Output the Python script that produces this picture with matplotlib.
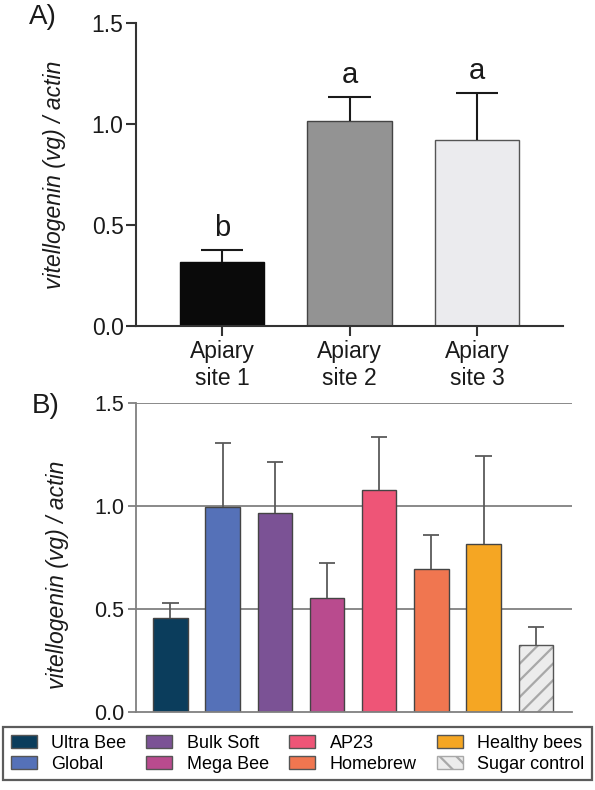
import matplotlib
matplotlib.use("Agg")
import matplotlib.pyplot as plt
from matplotlib.patches import Patch
import numpy as np

plt.rcParams['font.family'] = ['Liberation Sans', 'DejaVu Sans']
plt.rcParams['hatch.linewidth'] = 1.6

# ---- Panel A data ----
sites = ["Apiary\nsite 1", "Apiary\nsite 2", "Apiary\nsite 3"]
site_means = [0.318, 1.013, 0.922]
site_errs = [0.058, 0.121, 0.229]
site_letters = ["b", "a", "a"]
site_colors = ["#0a0a0a", "#939393", "#ebebee"]
site_edges = ["#0a0a0a", "#444444", "#555555"]

# ---- Panel B data ----
feeds = ["Ultra Bee", "Global", "Bulk Soft", "Mega Bee", "AP23",
         "Homebrew", "Healthy bees", "Sugar control"]
feed_means = [0.456, 0.994, 0.966, 0.552, 1.076, 0.694, 0.816, 0.325]
feed_errs = [0.073, 0.313, 0.249, 0.171, 0.260, 0.164, 0.425, 0.088]
feed_colors = ["#0b3d5c", "#5571b8", "#7b5295", "#b94b8e", "#ee5577",
               "#f07650", "#f5a623", "#ececec"]
yticks = [0.0, 0.5, 1.0, 1.5]

fig = plt.figure(figsize=(5.95, 7.9), dpi=100)

# ---------------- Panel A ----------------
axA = fig.add_axes([0.2286, 0.5873, 0.9462 - 0.2286, 0.9709 - 0.5873])
xa = np.arange(len(sites))
axA.bar(xa, site_means, width=0.66, color=site_colors, edgecolor=site_edges,
        linewidth=1.0, zorder=2)
tops = np.array(site_means) + np.array(site_errs)
axA.vlines(xa, site_means, tops, color="#1a1a1a", lw=1.5, zorder=3)
axA.hlines(tops, xa - 0.165, xa + 0.165, color="#1a1a1a", lw=1.5, zorder=3)
for xi, t, let in zip(xa, tops, site_letters):
    axA.text(xi, t + 0.07, let, ha="center", va="baseline", fontsize=21,
             color="#1a1a1a")
axA.set_xlim(-0.675, 2.675)
axA.set_ylim(0, 1.5)
axA.set_yticks(yticks)
axA.set_yticklabels([f"{v:.1f}" for v in yticks])
axA.set_xticks(xa)
axA.set_xticklabels(sites)
for s in ["top", "right"]:
    axA.spines[s].set_visible(False)
for s in ["left", "bottom"]:
    axA.spines[s].set_color("#333333")
    axA.spines[s].set_linewidth(1.5)
axA.tick_params(axis="both", colors="#333333", width=1.5, length=7,
                labelsize=16.5, labelcolor="#1a1a1a")
axA.tick_params(axis="x", pad=3)
axA.tick_params(axis="y", pad=2)
axA.set_ylabel("vitellogenin (vg) / actin", style="italic", fontsize=16.5,
               color="#1a1a1a")
axA.yaxis.set_label_coords(-0.164, 0.5)

# ---------------- Panel B ----------------
axB = fig.add_axes([0.228, 0.0987, 0.9608 - 0.228, 0.4899 - 0.0987])
xb = np.arange(len(feeds))
for i in range(len(feeds)):
    if feeds[i] == "Sugar control":
        axB.bar(xb[i], feed_means[i], width=0.66, color=feed_colors[i],
                edgecolor="#a8a8a8", hatch="//", linewidth=0, zorder=2)
        axB.bar(xb[i], feed_means[i], width=0.66, fill=False,
                edgecolor="#555555", linewidth=1.0, zorder=2.5)
    else:
        axB.bar(xb[i], feed_means[i], width=0.66, color=feed_colors[i],
                edgecolor="#444444", linewidth=1.0, zorder=2)
ftops = np.array(feed_means) + np.array(feed_errs)
axB.vlines(xb, feed_means, ftops, color="#5a5a5a", lw=1.3, zorder=3)
axB.hlines(ftops, xb - 0.155, xb + 0.155, color="#5a5a5a", lw=1.3, zorder=3)
axB.set_xlim(-0.667, 7.688)
axB.set_ylim(0, 1.5)
axB.set_yticks(yticks)
axB.set_yticklabels([f"{v:.1f}" for v in yticks])
axB.set_xticks([])
for v in yticks[1:]:
    axB.axhline(v, color="#808080", lw=1.3, zorder=1)
for s in ["top", "right"]:
    axB.spines[s].set_visible(False)
for s in ["left", "bottom"]:
    axB.spines[s].set_color("#808080")
    axB.spines[s].set_linewidth(1.3)
axB.tick_params(axis="y", colors="#808080", width=1.3, length=6,
                labelsize=15.5, labelcolor="#1a1a1a", pad=2)
axB.set_ylabel("vitellogenin (vg) / actin", style="italic", fontsize=16.5,
               color="#1a1a1a")
axB.yaxis.set_label_coords(-0.152, 0.443)

# ---------------- Panel labels ----------------
fig.text(0.048, 0.995, "A)", fontsize=20, va="top", ha="left", color="#1a1a1a")
fig.text(0.054, 0.503, "B)", fontsize=20, va="top", ha="left", color="#1a1a1a")

# ---------------- Legend ----------------
handles = []
for name, col in zip(feeds, feed_colors):
    if name == "Sugar control":
        handles.append(Patch(facecolor=col, edgecolor="#a8a8a8", hatch="\\\\",
                             linewidth=1.0, label=name))
    else:
        handles.append(Patch(facecolor=col, edgecolor="#555555",
                             linewidth=1.0, label=name))
leg = fig.legend(handles=handles, loc="upper left", ncol=4, mode="expand",
                 bbox_to_anchor=(3 / 595, 1 - 727 / 790, 589 / 595, 0),
                 fontsize=13, frameon=True, fancybox=False,
                 handlelength=1.45, handleheight=0.72, handletextpad=0.8,
                 labelspacing=0.22, borderpad=0.42, borderaxespad=0,
                 columnspacing=0.6)
leg.get_frame().set_edgecolor("#333333")
leg.get_frame().set_linewidth(1.6)

fig.savefig("out.png", dpi=100)
